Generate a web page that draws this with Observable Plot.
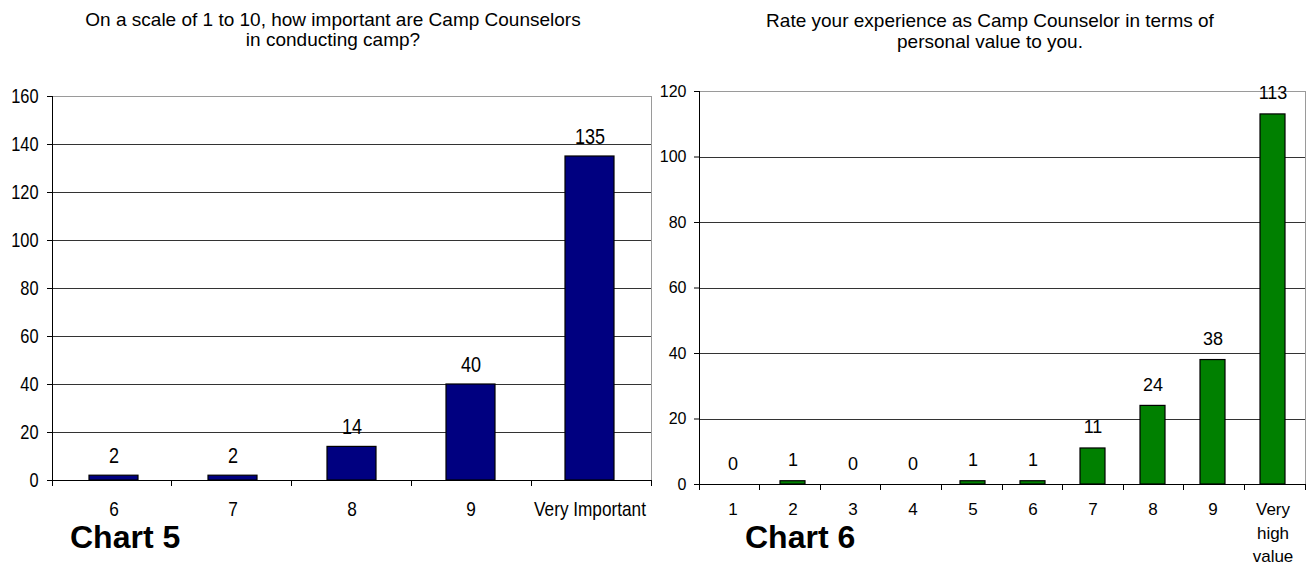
<!DOCTYPE html>
<html>
<head>
<meta charset="utf-8">
<script src="https://cdn.jsdelivr.net/npm/d3@7"></script>
<script src="https://cdn.jsdelivr.net/npm/@observablehq/plot@0.6"></script>
<style>
  body { margin: 0; background: #fff; }
  #page { position: relative; width: 1311px; height: 567px; overflow: hidden; background: #fff; color: #000; }
  .title { position: absolute; text-align: center; font-family: Arial, "Liberation Sans", sans-serif; font-size: 19px; line-height: 20px; }
  .chart-name { position: absolute; font-family: Arial, "Liberation Sans", sans-serif; font-weight: bold; font-size: 32px; line-height: 25px; }
  .chart { position: absolute; }
  .chart svg { overflow: visible; }
</style>
</head>
<body>
<div id="page">
  <div class="title" style="left:0;top:10px;width:666px;">On a scale of 1 to 10, how important are Camp Counselors<br>in conducting camp?</div>
  <div class="title" style="left:669px;top:10px;width:642px;line-height:21px;">Rate your experience as Camp Counselor in terms of<br>personal value to you.</div>
  <div class="chart" id="chart5" style="left:0;top:80px;"></div>
  <div class="chart" id="chart6" style="left:650px;top:70px;"></div>
  <div class="chart-name" style="left:70px;top:525px;">Chart 5</div>
  <div class="chart-name" style="left:745px;top:525px;">Chart 6</div>
</div>
<script>
// Chart 5: importance of camp counselors
const importanceCategories = ["6", "7", "8", "9", "Very Important"];
const importanceCounts = [2, 2, 14, 40, 135];
const importanceTicks = [0, 20, 40, 60, 80, 100, 120, 140, 160];

// Chart 6: personal value of the counselor experience
const valueCategories = ["1", "2", "3", "4", "5", "6", "7", "8", "9", "Very\nhigh\nvalue"];
const valueCounts = [0, 1, 0, 0, 1, 1, 11, 24, 38, 113];
const valueTicks = [0, 20, 40, 60, 80, 100, 120];

function barChart(opts) {
  const {categories, counts, ticks, fill, width, height, margin, fontFamily,
         tickFontSize, categoryFontSize, valueFontSize,
         valueOffset, labelPadding, lineHeight, yTickPadding} = opts;
  const data = categories.map((c, i) => ({category: c, count: counts[i]}));
  const yMax = ticks[ticks.length - 1];
  const n = categories.length;

  // Left axis line and tick marks on the category boundaries
  const categoryAxis = (index, scales, values, dims) => {
    const g = d3.create("svg:g").attr("stroke", "#000").attr("shape-rendering", "crispEdges");
    const x0 = dims.marginLeft, x1 = dims.width - dims.marginRight;
    const yBottom = dims.height - dims.marginBottom, yTop = dims.marginTop;
    const step = (x1 - x0) / n;
    g.append("line").attr("x1", x0).attr("x2", x0).attr("y1", yTop).attr("y2", yBottom);
    for (let i = 0; i <= n; i++) {
      const x = x0 + i * step;
      g.append("line").attr("x1", x).attr("x2", x).attr("y1", yBottom).attr("y2", yBottom + 6);
    }
    return g.node();
  };

  return Plot.plot({
    width, height,
    marginTop: margin.top, marginRight: margin.right, marginBottom: margin.bottom, marginLeft: margin.left,
    style: {fontFamily, fontSize: tickFontSize + "px", color: "#000", background: "transparent"},
    x: {domain: categories, paddingInner: 0.59, paddingOuter: 0.295, label: null},
    y: {domain: [0, yMax], label: null},
    marks: [
      Plot.frame({stroke: "#9a9a9a", shapeRendering: "crispEdges"}),
      Plot.gridY(ticks.filter(t => t > 0 && t < yMax), {stroke: "#333", strokeOpacity: 1, shapeRendering: "crispEdges"}),
      Plot.barY(data, {x: "category", y: "count", fill, stroke: "#000", strokeWidth: 1.2}),
      Plot.ruleY([0], {stroke: "#000", shapeRendering: "crispEdges"}),
      Plot.axisY(ticks, {tickSize: 5, tickPadding: yTickPadding, fontSize: tickFontSize, stroke: "#000", label: null}),
      Plot.axisX({tickSize: 0, tickPadding: labelPadding, fontSize: categoryFontSize, lineHeight, lineAnchor: "top", label: null}),
      Plot.text(data, {x: "category", y: "count", text: d => String(d.count), dy: -valueOffset, lineAnchor: "bottom", fontSize: valueFontSize}),
      categoryAxis
    ]
  });
}

// Squeeze every label horizontally about its anchor, giving a condensed face
function condense(svg, factor) {
  svg.querySelectorAll("text").forEach(t => {
    let tr = t.getAttribute("transform");
    if (!tr) {
      const x = +t.getAttribute("x") || 0, y = +t.getAttribute("y") || 0;
      t.removeAttribute("x"); t.removeAttribute("y");
      tr = `translate(${x},${y})`;
    }
    t.setAttribute("transform", `${tr} scale(${factor},1)`);
  });
  return svg;
}

document.getElementById("chart5").append(condense(barChart({
  categories: importanceCategories,
  counts: importanceCounts,
  ticks: importanceTicks,
  fill: "#000080",
  width: 670, height: 450,
  margin: {top: 16, right: 19, bottom: 50, left: 52},
  fontFamily: "Arial, 'Liberation Sans', sans-serif",
  tickFontSize: 20,
  categoryFontSize: 21,
  valueFontSize: 22,
  valueOffset: 13,
  labelPadding: 18,
  lineHeight: 1.2,
  yTickPadding: 9
}), 0.82));

document.getElementById("chart6").append(barChart({
  categories: valueCategories,
  counts: valueCounts,
  ticks: valueTicks,
  fill: "#008000",
  width: 661, height: 497,
  margin: {top: 21, right: 6, bottom: 83, left: 49},
  fontFamily: "Arial, 'Liberation Sans', sans-serif",
  tickFontSize: 16,
  categoryFontSize: 17,
  valueFontSize: 18,
  valueOffset: 15,
  labelPadding: 14,
  lineHeight: 1.38,
  yTickPadding: 8
}));
</script>
</body>
</html>
